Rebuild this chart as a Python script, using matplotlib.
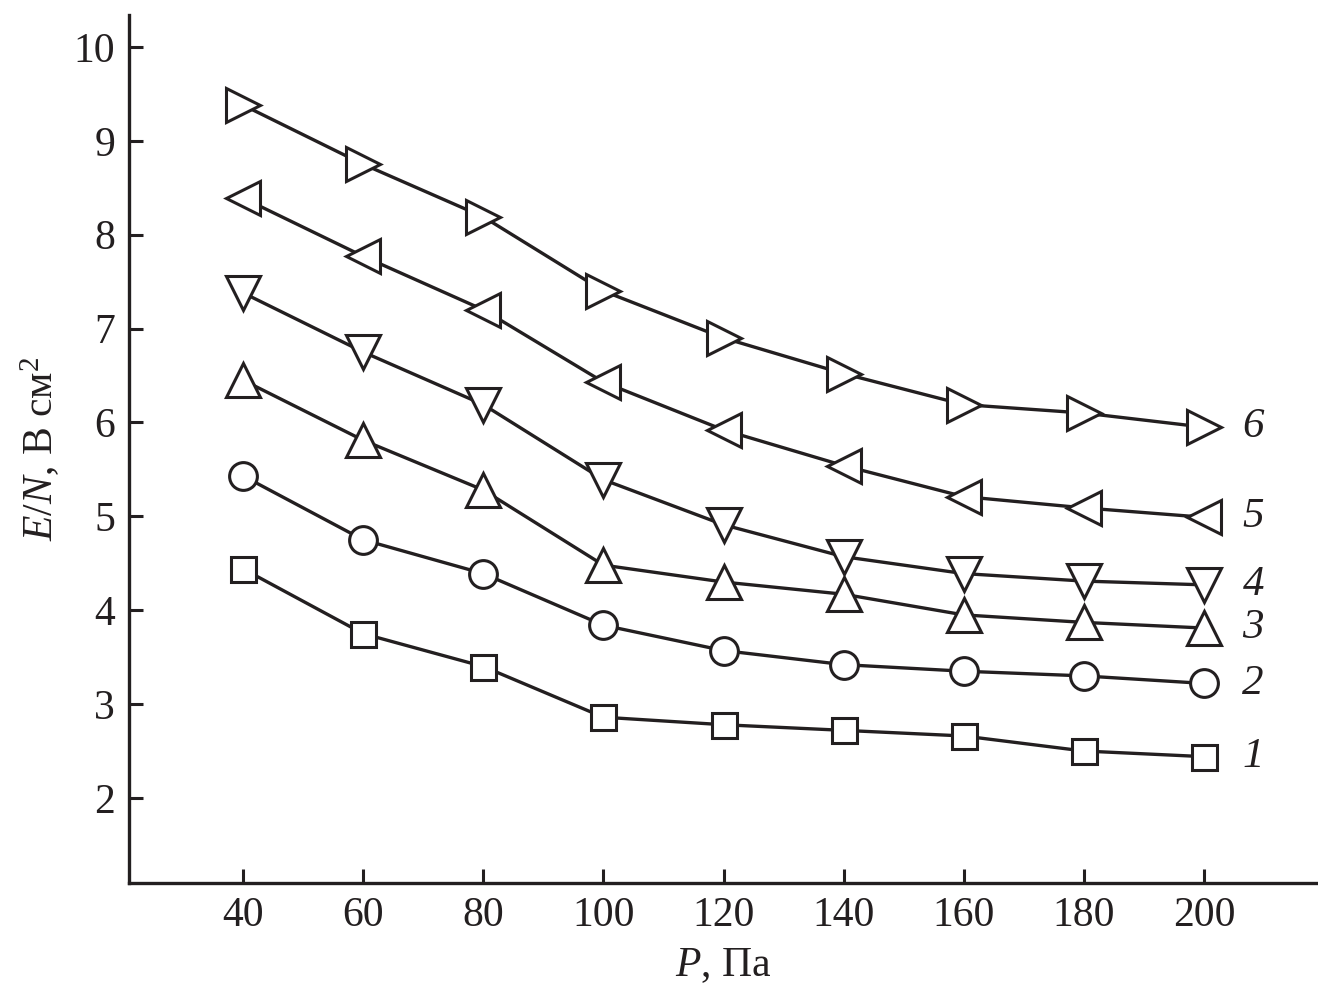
import matplotlib
matplotlib.use("Agg")
import matplotlib.pyplot as plt

plt.rcParams["font.family"] = ["Liberation Serif", "DejaVu Serif"]
plt.rcParams["mathtext.fontset"] = "custom"
plt.rcParams["mathtext.rm"] = "Liberation Serif"
plt.rcParams["mathtext.it"] = "Liberation Serif:italic"

# ---------------------------------------------------------------------------
# Data
# ---------------------------------------------------------------------------
pressure = [40, 60, 80, 100, 120, 140, 160, 180, 200]

curve_1 = [4.44, 3.75, 3.40, 2.86, 2.78, 2.72, 2.66, 2.50, 2.44]
curve_2 = [5.43, 4.75, 4.39, 3.84, 3.57, 3.42, 3.35, 3.30, 3.22]
curve_3 = [6.45, 5.81, 5.28, 4.48, 4.30, 4.17, 3.95, 3.87, 3.81]
curve_4 = [7.38, 6.75, 6.19, 5.39, 4.91, 4.57, 4.39, 4.31, 4.27]
curve_5 = [8.39, 7.77, 7.20, 6.43, 5.92, 5.54, 5.21, 5.09, 4.99]
curve_6 = [9.38, 8.75, 8.19, 7.40, 6.90, 6.52, 6.19, 6.10, 5.95]

curves = [curve_1, curve_2, curve_3, curve_4, curve_5, curve_6]
curve_labels = ["1", "2", "3", "4", "5", "6"]
markers = ["s", "o", "^", "v", "<", ">"]
marker_sizes = [18, 20, 24, 24, 24, 24]

x_ticks = [40, 60, 80, 100, 120, 140, 160, 180, 200]
y_ticks = [2, 3, 4, 5, 6, 7, 8, 9, 10]

# ---------------------------------------------------------------------------
# Plot
# ---------------------------------------------------------------------------
ink = "#231f20"
fig = plt.figure(figsize=(13.18, 9.92), dpi=100)
ax = fig.add_axes([129 / 1318, 109 / 992, 1189 / 1318, 868 / 992])

for y, lab, m, ms in zip(curves, curve_labels, markers, marker_sizes):
    ax.plot(pressure, y, color=ink, linewidth=2.4, marker=m,
            markersize=ms, markerfacecolor="white", markeredgecolor=ink,
            markeredgewidth=2.2)
    ax.text(pressure[-1] + 8.2, y[-1], lab, fontsize=31, style="italic",
            ha="center", va="center", color=ink)

ax.set_xlim(21, 219)
ax.set_ylim(1.094, 10.34)
ax.set_xticks(x_ticks)
ax.set_yticks(y_ticks)

ax.spines["top"].set_visible(False)
ax.spines["right"].set_visible(False)
for s in ("left", "bottom"):
    ax.spines[s].set_linewidth(2.4)
    ax.spines[s].set_color(ink)

ax.tick_params(direction="in", length=10, width=2.2, labelsize=30,
               colors=ink, pad=10)

ax.set_xlabel(r"$P$, Па", fontsize=30, color=ink, labelpad=8)
ax.set_ylabel(r"$E/N$, В см$^2$", fontsize=30, color=ink, labelpad=8)

plt.savefig("out.png", dpi=100)
plt.close()
